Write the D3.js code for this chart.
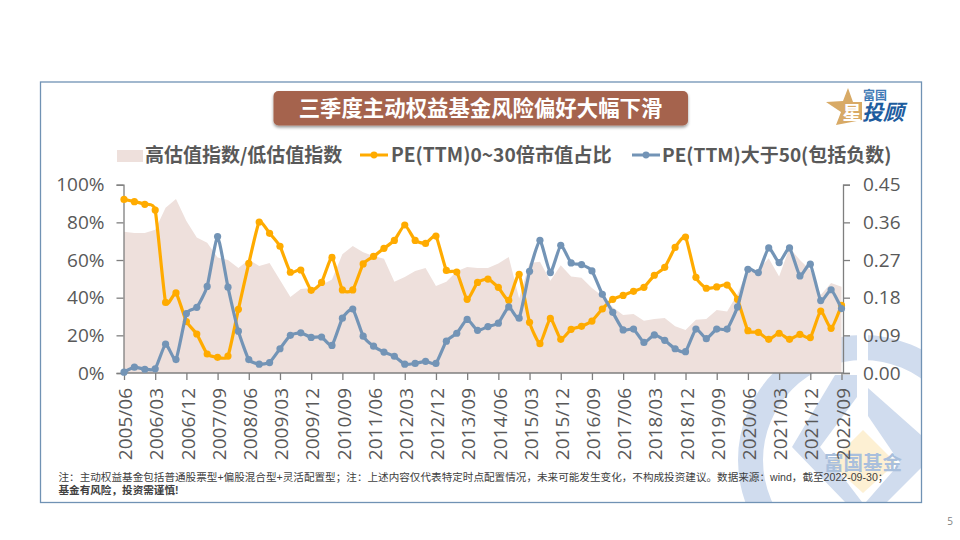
<!DOCTYPE html>
<html><head><meta charset="utf-8">
<script src="https://cdn.jsdelivr.net/npm/d3@7/dist/d3.min.js"></script>
<style>
html,body{margin:0;padding:0;background:#fff}
svg{display:block}
text{font-family:"Open Sans","Noto Sans CJK SC",sans-serif}
.cjk{font-family:"Noto Sans CJK SC","Open Sans",sans-serif}
.note{font-family:"Liberation Sans","Noto Sans CJK SC",sans-serif}
</style></head><body>
<svg id="c" width="960" height="540"></svg>
<script>
const quarters = [];
const years = d3.range(2005, 2023);
const months = ["03","06","09","12"];
years.forEach(y => months.forEach(m => {
  if ((y === 2005 && m === "03") || (y === 2022 && m === "12")) return;
  quarters.push(y + "/" + m);
}));
const tickLabels = ["2005/06","2006/03","2006/12","2007/09","2008/06","2009/03","2009/12","2010/09","2011/06","2012/03","2012/12","2013/09","2014/06","2015/03","2015/12","2016/09","2017/06","2018/03","2018/12","2019/09","2020/06","2021/03","2021/12","2022/09"];
const ratioArea = [75.0,74.3,74.3,76.1,87.8,92.4,80.7,71.9,69.2,61.4,60.0,55.8,60.2,56.8,58.4,49.4,40.4,44.6,45.1,46.7,49.6,63.0,67.4,
64.1,62.1,60.7,48.5,51.0,54.2,55.8,46.2,48.5,54.0,56.3,55.8,55.8,58.2,61.6,39.6,58.4,59.1,49.0,57.2,51.2,50.6,45.1,40.9,
34.9,30.8,31.3,27.8,28.7,29.2,24.8,22.8,28.3,28.7,33.5,32.6,41.9,55.2,54.7,60.9,51.2,66.5,60.0,54.7,41.4,47.8,45.8];
const pe0to30 = [92.2,91.0,89.6,86.5,37.5,42.5,27.3,20.7,10.1,8.3,9.0,33.8,58.2,80.2,74.2,67.3,53.5,54.7,43.9,48.1,61.4,44.1,44.1,
57.9,61.9,66.2,70.4,78.6,70.4,68.8,72.7,54.5,53.6,39.1,48.1,49.9,45.5,38.6,52.4,26.9,15.6,29.0,17.9,23.2,24.8,27.6,34.0,
39.1,41.2,43.4,45.5,51.9,56.1,66.7,72.2,50.8,45.0,45.7,46.7,39.1,22.5,21.6,17.9,21.1,17.9,20.5,18.8,32.9,23.7,35.9];
const peAbove50 = [0.002,0.014,0.009,0.010,0.069,0.032,0.142,0.157,0.207,0.326,0.205,0.100,0.032,0.021,0.025,0.058,0.090,0.096,0.085,0.086,0.066,0.131,0.153,
0.088,0.064,0.050,0.040,0.021,0.023,0.028,0.023,0.076,0.095,0.128,0.102,0.111,0.119,0.158,0.131,0.243,0.317,0.240,0.305,0.263,0.259,0.244,0.188,
0.145,0.103,0.105,0.073,0.091,0.078,0.058,0.051,0.105,0.082,0.105,0.105,0.158,0.248,0.240,0.299,0.264,0.299,0.232,0.260,0.173,0.199,0.154];
const leftTicks = [0,20,40,60,80,100];
const rightTicks = [0,0.09,0.18,0.27,0.36,0.45];
const legendNames = ["高估值指数/低估值指数","PE(TTM)0~30倍市值占比","PE(TTM)大于50(包括负数)"];
const titleText = "三季度主动权益基金风险偏好大幅下滑";
const note1 = "注：主动权益基金包括普通股票型+偏股混合型+灵活配置型；注：上述内容仅代表特定时点配置情况，未来可能发生变化，不构成投资建议。数据来源：wind，截至2022-09-30；";
const note2 = "基金有风险，投资需谨慎!";

const INK = "#595959", AXIS = "#7f7f7f", ORANGE = "#ffab00", BLUE = "#7394b6", AREA = "#eee0dc", MARK = "#d0dcee";
const svg = d3.select("#c");
const defs = svg.append("defs");
defs.append("clipPath").attr("id","frameClip").append("rect").attr("x",41).attr("y",82).attr("width",880).attr("height",420);
const sh = defs.append("filter").attr("id","shadow").attr("x","-5%").attr("y","-20%").attr("width","110%").attr("height","150%");
sh.append("feDropShadow").attr("dx",0).attr("dy",2).attr("stdDeviation",1.5).attr("flood-color","#000").attr("flood-opacity",0.4);

// watermark
const wm = svg.append("g").attr("clip-path","url(#frameClip)");
wm.append("path")
  .attr("d", d3.arc().innerRadius(100).outerRadius(125).startAngle(0).endAngle(2*Math.PI)())
  .attr("transform","translate(863,460)").attr("fill",MARK);
wm.append("rect").attr("x",857).attr("y",330).attr("width",11).attr("height",70).attr("fill","#fff");
wm.append("path").attr("d","M835,375L857,375L857,397L820,447L862,502L845,502L792,447Z").attr("fill",MARK);
wm.append("path").attr("d","M868,388L921,435L921,468L887,502L866,502L900,463L868,416Z").attr("fill",MARK);
wm.append("path").attr("d","M863,430L896,463L863,493L830,463Z").attr("fill","#fdf0d3");
wm.append("text").attr("class","cjk").attr("x",863).attr("y",470).attr("text-anchor","middle")
  .attr("font-size",19.5).attr("font-weight",700).attr("fill","#a9bfdc").text("富国基金");

// frame
svg.append("rect").attr("x",40.5).attr("y",82).attr("width",881).attr("height",420.5).attr("fill","none").attr("stroke","#7092b4").attr("stroke-width",1.3);

// title
svg.append("rect").attr("x",273.5).attr("y",91).attr("width",414.5).attr("height",34.5).attr("rx",5).attr("fill","#a5634d").attr("filter","url(#shadow)");
svg.append("text").attr("class","cjk").attr("x",480.5).attr("y",116).attr("text-anchor","middle").attr("font-size",21.4).attr("font-weight",700).attr("fill","#fff").text(titleText);

// logo
const logo = svg.append("g");
logo.append("path").attr("d","M848,88L853,102L862,102L862,120L836,125L841,112L826,102L843,101Z").attr("fill","#d8aa66");
logo.append("text").attr("class","cjk").attr("x",852).attr("y",120).attr("font-size",19).attr("font-weight",700).attr("fill","#fff").attr("text-anchor","middle").text("星");
logo.append("text").attr("class","cjk").attr("x",863).attr("y",100).attr("font-size",12).attr("font-weight",700).attr("fill","#3f7ab5").text("富国");
logo.append("text").attr("class","cjk").attr("x",862).attr("y",120).attr("font-size",21).attr("font-weight",700).attr("font-style","italic").attr("fill","#1d5c9e").attr("textLength",42).attr("lengthAdjust","spacingAndGlyphs").text("投顾");

// scales
const x = d3.scalePoint().domain(quarters).range([124,841.5]);
const yL = d3.scaleLinear().domain([0,100]).range([373,184.7]);
const yR = d3.scaleLinear().domain([0,0.45]).range([373,184.7]);

// area
svg.append("path").datum(ratioArea).attr("fill",AREA)
  .attr("d", d3.area().x((d,i)=>x(quarters[i])).y0(yL(0)).y1(d=>yL(d)));

// axes
function styleAxis(g){
  g.selectAll("path.domain").attr("stroke",AXIS).attr("stroke-width",1.3);
  g.selectAll("line").attr("stroke",AXIS).attr("stroke-width",1.3);
  g.selectAll("text").attr("fill",INK).attr("font-size",19);
}
const gL = svg.append("g").attr("transform","translate(123.5,0)")
  .call(d3.axisLeft(yL).tickValues(leftTicks).tickFormat(d=>d+"%").tickSize(7).tickSizeOuter(7).tickPadding(12)).call(styleAxis);
const gR = svg.append("g").attr("transform","translate(843,0)")
  .call(d3.axisRight(yR).tickValues(rightTicks).tickFormat(d3.format(".2f")).tickSize(7).tickSizeOuter(7).tickPadding(13)).call(styleAxis);
const gB = svg.append("g").attr("transform","translate(0,373)")
  .call(d3.axisBottom(x).tickValues(tickLabels).tickSize(7).tickSizeOuter(0)).call(styleAxis);
gB.select("path.domain").attr("d","M123.5,0H843");
gB.selectAll("text").attr("text-anchor","end").attr("transform","rotate(-90)").attr("x",-15).attr("y",1).attr("dy","0.35em");

// lines
function drawSeries(vals, yS, color, r){
  svg.append("path").datum(vals).attr("fill","none").attr("stroke",color).attr("stroke-width",3.2).attr("stroke-linejoin","round")
    .attr("d", d3.line().x((d,i)=>x(quarters[i])).y(d=>yS(d)).curve(d3.curveCardinal.tension(0.5)));
  svg.append("g").selectAll("circle").data(vals).join("circle")
    .attr("cx",(d,i)=>x(quarters[i])).attr("cy",d=>yS(d)).attr("r",r).attr("fill",color);
}
drawSeries(pe0to30,yL,ORANGE,3.6);
drawSeries(peAbove50,yR,BLUE,3.6);

// legend
const lg = svg.append("g");
lg.append("rect").attr("x",117).attr("y",150).attr("width",26).attr("height",12).attr("fill",AREA);
[[145,0,19],[391,1,19.2],[662,2,19]].forEach(([tx,i,fs])=>{
  lg.append("text").attr("class","cjk").attr("x",tx).attr("y",162).attr("font-size",fs).attr("font-weight",700).attr("fill",INK).text(legendNames[i]);
});
[[360,388,ORANGE],[632,660,BLUE]].forEach(([a,b,c])=>{
  lg.append("line").attr("x1",a).attr("x2",b).attr("y1",155).attr("y2",155).attr("stroke",c).attr("stroke-width",3);
  lg.append("circle").attr("cx",(a+b)/2).attr("cy",155).attr("r",3.4).attr("fill",c);
});

// notes
svg.append("text").attr("class","note").attr("x",58.5).attr("y",481).attr("font-size",10.6).attr("fill","#404040").text(note1);
svg.append("text").attr("class","note").attr("x",58.5).attr("y",494).attr("font-size",10.6).attr("font-weight",700).attr("fill","#404040").text(note2);
svg.append("text").attr("x",950).attr("y",525).attr("text-anchor","middle").attr("font-size",10).attr("fill","#7f7f7f").text("5");
</script>
</body></html>
